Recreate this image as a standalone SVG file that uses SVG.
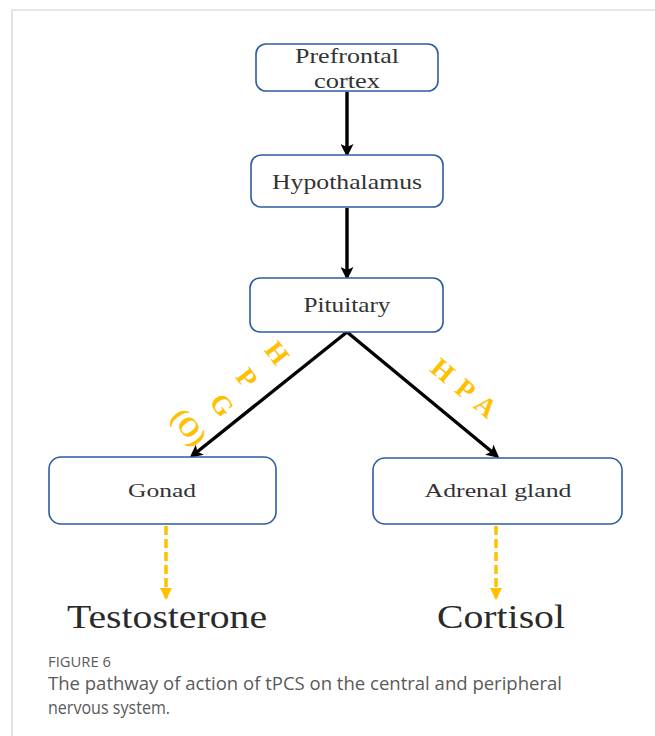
<svg xmlns="http://www.w3.org/2000/svg" width="655" height="736" viewBox="0 0 655 736">
<defs>
<style>
.box{fill:#fff;stroke:#2E5C9E;stroke-width:1.6}
.lbl{font-family:"Liberation Serif","Times New Roman",serif;fill:#333;text-anchor:middle}
.big{font-family:"Liberation Serif","Times New Roman",serif;fill:#2a2a2a;text-anchor:middle;font-size:33px}
.ax{font-family:"Liberation Serif","Times New Roman",serif;font-weight:bold;fill:#FFC000;font-size:27px;text-anchor:middle;dominant-baseline:central}
.blk{stroke:#000;stroke-width:3.4;fill:none}
.dash{stroke:#FFC000;stroke-width:3.5;stroke-dasharray:9 4;fill:none}
.cap{font-family:"Open Sans","Liberation Sans",sans-serif;fill:#5a5a5a}
</style>
<marker id="ah" markerWidth="13" markerHeight="13" refX="10" refY="6.5" orient="auto" markerUnits="userSpaceOnUse" viewBox="0 0 13 13">
<path d="M0,0 L13,6.5 L0,13 L3,6.5 z" fill="#000"/>
</marker>
<marker id="ay" markerWidth="12" markerHeight="12" refX="10" refY="6" orient="auto" markerUnits="userSpaceOnUse" viewBox="0 0 12 12">
<path d="M0,0 L12,6 L0,12 z" fill="#FFC000"/>
</marker>
</defs>
<rect width="655" height="736" fill="#fff"/>
<path d="M12,736 V10 H655" stroke="#d0d0d0" stroke-width="1.2" fill="none"/>

<g id="connectors">
<line class="blk" x1="347" y1="92" x2="347" y2="154" marker-end="url(#ah)"/>
<line class="blk" x1="347" y1="208" x2="347" y2="277" marker-end="url(#ah)"/>
<line class="blk" x1="347" y1="332" x2="192" y2="456" marker-end="url(#ah)"/>
<line class="blk" x1="347" y1="332" x2="497" y2="456" marker-end="url(#ah)"/>
<line class="dash" x1="166" y1="526" x2="166" y2="598" marker-end="url(#ay)"/>
<line class="dash" x1="496" y1="526" x2="496" y2="598" marker-end="url(#ay)"/>
<g id="hpg-label">
<text class="ax" transform="translate(277,353) rotate(52)">H</text>
<text class="ax" transform="translate(247,378) rotate(52)">P</text>
<text class="ax" transform="translate(222,405) rotate(52)">G</text>
<text class="ax" transform="translate(189,427) rotate(52)">(O)</text>
</g>
<g id="hpa-label">
<text class="ax" transform="translate(464,388) rotate(40)" textLength="76" lengthAdjust="spacing">H P A</text>
</g>
</g>

<g id="prefrontal">
<rect class="box" x="256" y="44" width="182" height="47" rx="10"/>
<text class="lbl" x="347" y="63" font-size="21" textLength="104" lengthAdjust="spacingAndGlyphs">Prefrontal</text>
<text class="lbl" x="347" y="88" font-size="21" textLength="66" lengthAdjust="spacingAndGlyphs">cortex</text>
</g>
<g id="hypothalamus">
<rect class="box" x="251" y="155" width="192" height="52" rx="10"/>
<text class="lbl" x="347" y="189" font-size="21" textLength="150" lengthAdjust="spacingAndGlyphs">Hypothalamus</text>
</g>
<g id="pituitary">
<rect class="box" x="250" y="278" width="193" height="54" rx="10"/>
<text class="lbl" x="347" y="312" font-size="21" textLength="87" lengthAdjust="spacingAndGlyphs">Pituitary</text>
</g>
<g id="gonad">
<rect class="box" x="49" y="457" width="227" height="67" rx="12"/>
<text class="lbl" x="162" y="497" font-size="19" textLength="68" lengthAdjust="spacingAndGlyphs">Gonad</text>
</g>
<g id="adrenal">
<rect class="box" x="373" y="458" width="249" height="66" rx="12"/>
<text class="lbl" x="498" y="497" font-size="19" textLength="147" lengthAdjust="spacingAndGlyphs">Adrenal gland</text>
</g>
<g id="testosterone">
<text class="big" x="167" y="628" textLength="200" lengthAdjust="spacingAndGlyphs">Testosterone</text>
</g>
<g id="cortisol">
<text class="big" x="501" y="628" textLength="128" lengthAdjust="spacingAndGlyphs">Cortisol</text>
</g>

<g id="caption">
<text class="cap" x="48" y="667" font-size="14.5" textLength="63" lengthAdjust="spacingAndGlyphs">FIGURE 6</text>
<text class="cap" x="48" y="690" font-size="18" textLength="514" lengthAdjust="spacingAndGlyphs">The pathway of action of tPCS on the central and peripheral</text>
<text class="cap" x="48" y="714" font-size="18" textLength="122" lengthAdjust="spacingAndGlyphs">nervous system.</text>
</g>
</svg>
